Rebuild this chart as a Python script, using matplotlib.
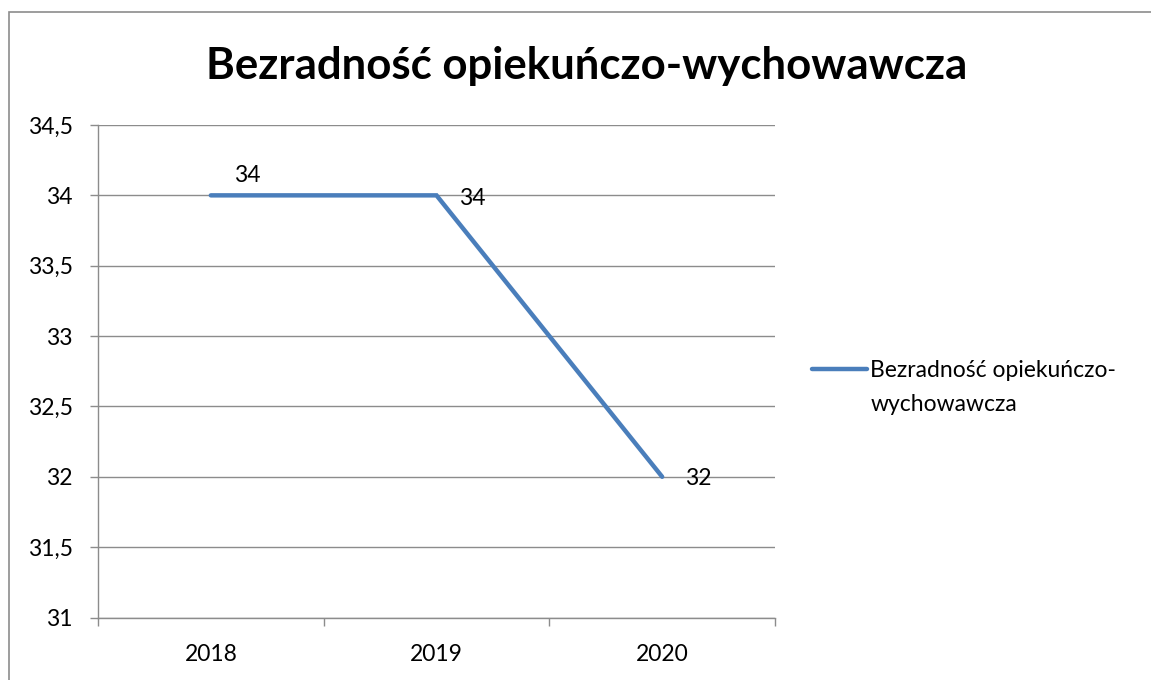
import matplotlib
matplotlib.use('Agg')
import matplotlib.pyplot as plt
from matplotlib.patches import Rectangle

# data
years = ['2018', '2019', '2020']
values = [34, 34, 32]
series_name = 'Bezradność opiekuńczo-wychowawcza'
title = 'Bezradność opiekuńczo-wychowawcza'
y_ticks = [31, 31.5, 32, 32.5, 33, 33.5, 34, 34.5]
y_tick_labels = ['31', '31,5', '32', '32,5', '33', '33,5', '34', '34,5']

plt.rcParams['font.family'] = ['Lato', 'DejaVu Sans']

W, H = 1151, 680
fs = 16.5
fig = plt.figure(figsize=(W / 100, H / 100), dpi=100)
ax = fig.add_axes([98 / W, 1 - 617.5 / H, (775 - 98) / W, (617.5 - 125) / H])

# outer chart border (right and bottom edges fall outside the picture)
fig.patches.append(Rectangle((9 / W, -0.1), 1.2, 1 - 12 / H + 0.1, transform=fig.transFigure,
                             fill=False, edgecolor='#8c8c8c', linewidth=1.2))

grey = '#8c8c8c'
blue = '#4a7ebb'

x = list(range(len(years)))
line, = ax.plot(x, values, color=blue, linewidth=3.2, solid_capstyle='round',
                solid_joinstyle='miter', zorder=3)

# data labels
offsets = [(26, 14), (26, -2), (26, -1)]
for xi, v, off in zip(x, values, offsets):
    ax.annotate(str(v), (xi, v), xytext=off, textcoords='offset points',
                ha='center', va='center', fontsize=fs)

ax.set_xlim(-0.5, len(years) - 0.5)
ax.set_ylim(y_ticks[0], y_ticks[-1])
ax.set_yticks(y_ticks)
ax.set_yticklabels(y_tick_labels)

# tick marks between categories, labels at category centres
ax.set_xticks([i - 0.5 for i in range(len(years) + 1)])
ax.set_xticklabels([])
ax.set_xticks(x, minor=True)
ax.set_xticklabels(years, minor=True)
ax.tick_params(axis='x', which='major', length=6, width=1, color=grey, direction='out')
ax.tick_params(axis='x', which='minor', length=0, pad=19, labelsize=fs)
ax.tick_params(axis='y', length=6, width=1, color=grey, direction='out', pad=12, labelsize=fs)

ax.grid(axis='y', color=grey, linewidth=1)
ax.set_axisbelow(True)
for side in ['top', 'right']:
    ax.spines[side].set_visible(False)
for side in ['left', 'bottom']:
    ax.spines[side].set_color(grey)
    ax.spines[side].set_linewidth(1)
    ax.spines[side].set_zorder(2.5)

fig.text(587 / W, 1 - 66 / H, title, ha='center', va='center', fontsize=31.5, fontweight='bold')

# legend: handle beside the first line of the label, second line underneath
leg = fig.legend([line], ['Bezradność opiekuńczo-'], loc='center left',
                 bbox_to_anchor=(812 / W, 1 - 371 / H), frameon=False, fontsize=fs,
                 handlelength=2.4, handletextpad=0.15, borderpad=0, borderaxespad=0)
fig.canvas.draw()
bb = leg.get_texts()[0].get_window_extent()
fig.text(bb.x0 / W, (bb.y0 - 34) / H, 'wychowawcza', ha='left', va='bottom', fontsize=fs)

fig.savefig('out.png', dpi=100)
